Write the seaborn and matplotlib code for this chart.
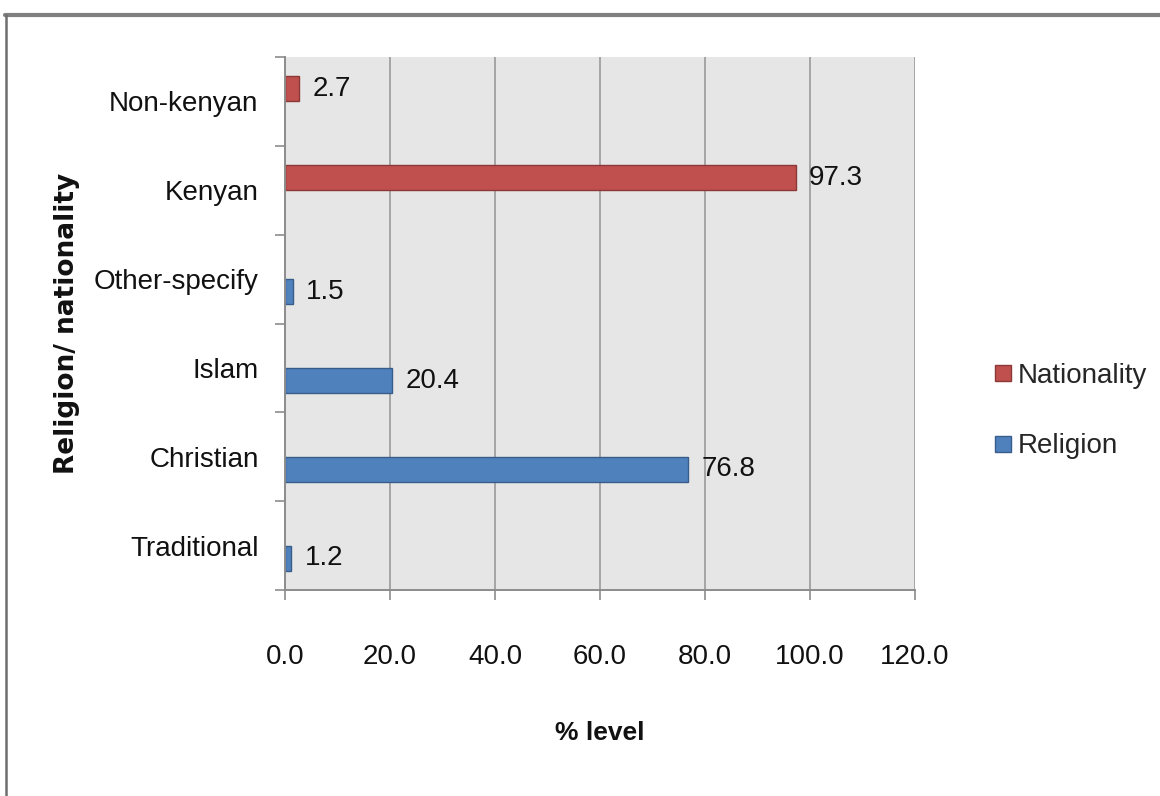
import matplotlib
matplotlib.use("Agg")
import matplotlib.pyplot as plt
from matplotlib.lines import Line2D
import pandas as pd
import seaborn as sns

# Categories, top to bottom
categories = ["Non-kenyan", "Kenyan", "Other-specify", "Islam", "Christian", "Traditional"]
nationality_cats = ["Non-kenyan", "Kenyan"]
nationality_vals = [2.7, 97.3]
religion_cats = ["Other-specify", "Islam", "Christian", "Traditional"]
religion_vals = [1.5, 20.4, 76.8, 1.2]
series = ["Nationality", "Religion"]
x_ticks = [0, 20, 40, 60, 80, 100, 120]

df = pd.DataFrame({
    "category": nationality_cats + religion_cats,
    "value": nationality_vals + religion_vals,
    "series": ["Nationality"] * len(nationality_cats) + ["Religion"] * len(religion_cats),
})

sns.set_theme(style="white")
plt.rcParams["font.family"] = ["Liberation Sans", "DejaVu Sans"]

palette = {"Nationality": "#C0504D", "Religion": "#4F81BD"}
edges = {"Nationality": "#8C3836", "Religion": "#385D8A"}
FS = 20

fig = plt.figure(figsize=(11.6, 7.96), dpi=100)
ax = fig.add_axes([285 / 1160, 1 - 590 / 796, 630 / 1160, 533 / 796])

sns.barplot(data=df, x="value", y="category", hue="series", order=categories,
            hue_order=series, palette=palette, orient="h", width=0.57,
            dodge=True, legend=False, ax=ax, linewidth=1, saturation=1)

for cont, name in zip(ax.containers, series):
    for patch in cont:
        patch.set_edgecolor(edges[name])
    ax.bar_label(cont, fmt="%.1f", padding=9.5, fontsize=FS, color="#111111")

ax.set_facecolor("#E6E6E6")
ax.set_xlim(0, 120)
ax.set_xticks(x_ticks)
ax.set_xticklabels([f"{t:.1f}" for t in x_ticks], fontsize=FS, color="#111111")
ax.xaxis.grid(True, color="#9A9A9A", linewidth=1.2)
ax.set_axisbelow(True)

# category ticks sit on band boundaries
ax.set_yticks([i - 0.5 for i in range(len(categories) + 1)], minor=False)
ax.set_yticklabels([])
ax.set_yticks(range(len(categories)), minor=True)
ax.set_yticklabels(categories, minor=True, fontsize=FS, color="#111111")
ax.tick_params(axis="y", which="minor", length=0, pad=19)
ax.tick_params(axis="y", which="major", length=7, color="#8C8C8C", width=1.2, direction="out", left=True)
ax.tick_params(axis="x", length=7, color="#8C8C8C", width=1.2, direction="out", bottom=True, pad=32)
ax.set_ylim(len(categories) - 0.5, -0.5)

for side in ["top", "right"]:
    ax.spines[side].set_visible(False)
for side in ["left", "bottom"]:
    ax.spines[side].set_color("#8C8C8C")
    ax.spines[side].set_linewidth(1.4)

ax.set_ylabel("Religion/ nationality", fontsize=19, fontweight="bold",
              family="DejaVu Sans", color="#111111")
ax.yaxis.set_label_coords((67 - 285) / 630, 0.5)
ax.yaxis.label.set_va("center")
ax.set_xlabel("% level", fontsize=19, fontweight="bold", color="#111111")
ax.xaxis.set_label_coords(0.5, (590 - 733) / 533)
ax.xaxis.label.set_va("center")

handles = [Line2D([0], [0], marker="s", linestyle="none", markersize=12,
                  markerfacecolor=palette[s], markeredgecolor=edges[s]) for s in series]
fig.legend(handles, series, loc="center left", bbox_to_anchor=(989 / 1160, 1 - 411 / 796),
           frameon=False, fontsize=FS, handletextpad=0.05, labelspacing=1.6, handlelength=1.0,
           borderaxespad=0, borderpad=0)

# outer chart frame
fig.add_artist(Line2D([5 / 1160, 1], [1 - 15 / 796, 1 - 15 / 796], transform=fig.transFigure,
                      color="#808080", linewidth=3))
fig.add_artist(Line2D([6 / 1160, 6 / 1160], [0, 1 - 15 / 796], transform=fig.transFigure,
                      color="#6E6E6E", linewidth=1.8))

fig.savefig("out.png", dpi=100)
